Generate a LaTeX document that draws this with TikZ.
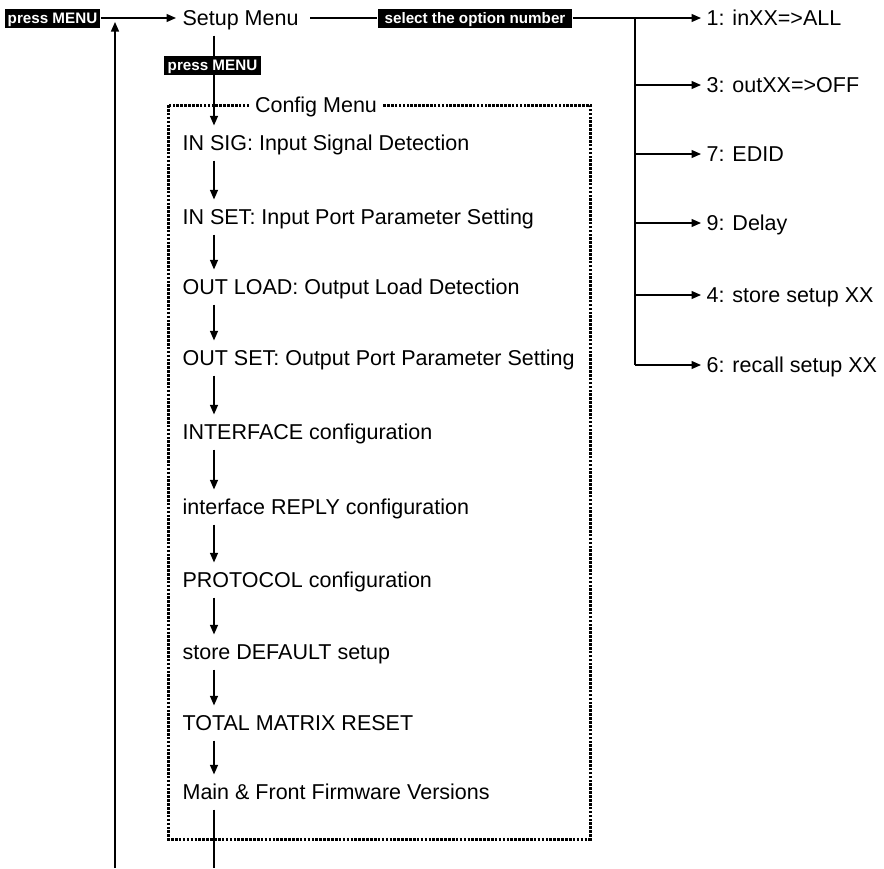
\documentclass[tikz,border=0pt]{standalone}
\usepackage{fontspec}
\setmainfont{Liberation Sans}
\usetikzlibrary{arrows.meta}
\begin{document}
\begin{tikzpicture}[x=1pt,y=-1pt,
  line width=1.2pt,
  arr/.style={-{Triangle[length=9.5pt,width=8pt]}},
  item/.style={anchor=west,inner xsep=0pt,inner ysep=0pt,text height=24.75pt,text depth=9.25pt,font=\fontsize{21.5}{24}\selectfont},
  blk/.style={fill=black,text=white,font=\bfseries\fontsize{15.2}{17}\selectfont,inner ysep=0pt,text height=14.5pt,text depth=4.5pt},
  dotbox/.style={line width=3pt,dash pattern=on 2.6pt off 1.3pt},
]
\useasboundingbox (0,0) rectangle (884,868);

% top row
\node[blk,inner xsep=3pt] (pm1) at (52.5,18) {press MENU};
\node[item] (setup) at (182,18) {Setup Menu};
\node[blk,inner xsep=7pt] (sel) at (475,18) {select the option number};

% right options
\node[item] (r1) at (706,18)  {1: inXX=>ALL};
\node[item] (r2) at (706,85)  {3: outXX=>OFF};
\node[item] (r3) at (706,154) {7: EDID};
\node[item] (r4) at (706,223) {9: Delay};
\node[item] (r5) at (706,295) {4: store setup XX};
\node[item] (r6) at (706,365) {6: recall setup XX};
\coordinate (b1) at (635,18);
\coordinate (b2) at (635,85);
\coordinate (b3) at (635,154);
\coordinate (b4) at (635,223);
\coordinate (b5) at (635,295);
\coordinate (b6) at (635,365);

\draw[arr,shorten >=6pt] (pm1.east) -- (setup.west);
\draw[shorten <=11pt] (setup.east) -- (sel.west);
\draw[arr,shorten >=5pt] (sel.east) -- (r1.west);
\draw (b1) -- (b6);
\foreach \i in {2,...,6}{
  \draw[arr,shorten >=5pt] (b\i) -- (r\i.west);
}

% config menu box
\draw[dotbox] (168,105) rectangle (590,839);
\node[item,anchor=center,fill=white,inner xsep=5pt] (cfg) at (316,105) {Config Menu};

\coordinate (col) at (214,0);
\node[item] (n1)  at (182,143) {IN SIG: Input Signal Detection};
\node[item] (n2)  at (182,217) {IN SET: Input Port Parameter Setting};
\node[item] (n3)  at (182,287) {OUT LOAD: Output Load Detection};
\node[item] (n4)  at (182,358) {OUT SET: Output Port Parameter Setting};
\node[item] (n5)  at (182,432) {INTERFACE configuration};
\node[item] (n6)  at (182,507) {interface REPLY configuration};
\node[item] (n7)  at (182,580) {PROTOCOL configuration};
\node[item] (n8)  at (182,652) {store DEFAULT setup};
\node[item] (n9)  at (182,723) {TOTAL MATRIX RESET};
\node[item] (n10) at (182,792) {Main \& Front Firmware Versions};

\draw[arr] (setup.south -| col) -- (n1.north -| col);
\node[blk,inner xsep=4pt] (pm2) at (212.5,65) {press MENU};

\foreach \i/\j in {1/2,2/3,3/4,4/5,5/6,6/7,7/8,8/9,9/10}{
  \draw[arr] (n\i.south -| col) -- (n\j.north -| col);
}

% bottom / return lines
\coordinate (colb) at (214,868);
\draw (n10.south -| col) -- (colb);
\coordinate (retb) at (115,868);
\coordinate (rett) at (115,22);
\draw[arr] (retb) -- (rett);
\end{tikzpicture}
\end{document}
